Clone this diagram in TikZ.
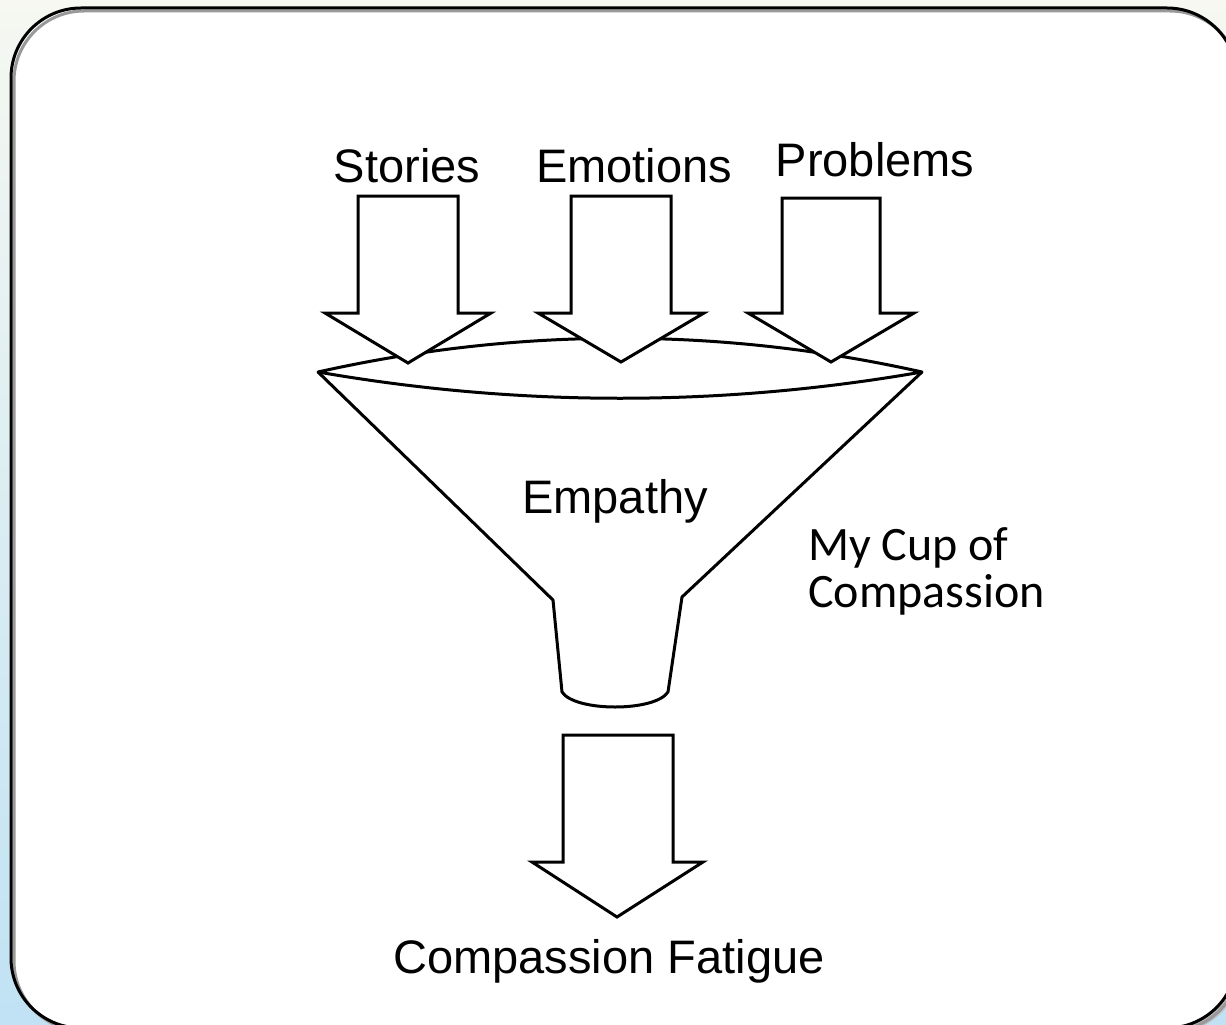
\documentclass[tikz,border=0pt]{standalone}
\usepackage{fontspec}
\setmainfont{Liberation Sans}
\newfontfamily\calib{Carlito}
\definecolor{bgtop}{HTML}{F6F8F1}
\definecolor{bgbot}{HTML}{C0E2F4}
\definecolor{shadowgray}{HTML}{BDBDBD}
\begin{document}
\begin{tikzpicture}[x=1pt,y=-1pt,
  outl/.style={draw=black, line width=3pt, line join=round},
  arrowbox/.style={draw=black, fill=white, line width=3pt, line join=miter},
  lbl/.style={font=\fontsize{47}{56}\selectfont, inner sep=0pt, anchor=base},
  side/.style={font=\calib\fontsize{48}{50}\selectfont, inner sep=0pt, anchor=base west},
  frame/.style={rounded corners=70pt}]
\useasboundingbox (0,0) rectangle (1226,1025);
\clip (0,0) rectangle (1226,1025);
% background
\shade[top color=bgtop, bottom color=bgbot] (0,0) rectangle (1226,1025);
% frame with shadow
\fill[shadowgray, frame] (16,13) rectangle (1242,1033);
\fill[white, frame] (11,8) rectangle (1237,1028);
\draw[black!40, line width=3pt, frame] (14,11) rectangle (1240,1031);
\draw[black, line width=3pt, frame] (11,8) rectangle (1237,1028);
% lens (mouth of the funnel)
\draw[outl] (318,372) .. controls (519,327) and (721,327) .. (922,372)
            .. controls (721,407) and (519,407) .. (318,372) -- cycle;
% funnel body
\draw[outl] (318,372) -- (553,600) -- (562,692)
   .. controls (575,712) and (655,712) .. (668,692) -- (682,597) -- (922,372);
% input arrows
\draw[arrowbox] (358,196) -- (458,196) -- (458,313) -- (491,313) -- (408,363)
   -- (325,313) -- (358,313) -- cycle;
\draw[arrowbox] (571,196) -- (671,196) -- (671,313) -- (704,313) -- (621,362)
   -- (538,313) -- (571,313) -- cycle;
\draw[arrowbox] (782,198) -- (880,198) -- (880,313) -- (914,313) -- (831,362)
   -- (748,313) -- (782,313) -- cycle;
% output arrow
\draw[arrowbox] (563,735) -- (673,735) -- (673,862) -- (703,862) -- (617,917)
   -- (532,862) -- (563,862) -- cycle;
% labels
\node[lbl] (stories) at (407,182) {Stories};
\node[lbl] (emotions) at (634,182) {Emotions};
\node[lbl] (problems) at (875,176) {Problems};
\node[lbl] (empathy) at (615,513) {Empathy};
\node[side] (cup1) at (808,560) {My Cup of};
\node[side] (cup2) at (808,607) {Compassion};
\node[lbl] (fatigue) at (609,973) {Compassion Fatigue};
\end{tikzpicture}
\end{document}
